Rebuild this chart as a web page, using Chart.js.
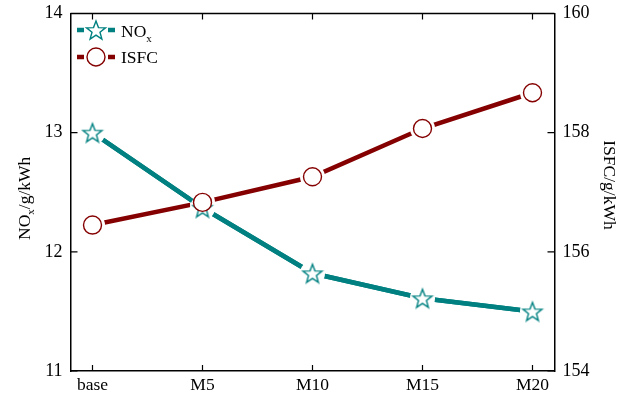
<!DOCTYPE html>
<html>
<head>
<meta charset="utf-8">
<script src="https://cdn.jsdelivr.net/npm/chart.js"></script>
<style>
  html, body { margin: 0; padding: 0; background: #fff; }
  #wrap { width: 624px; height: 401px; }
</style>
</head>
<body>
<div id="wrap"><canvas id="myChart" width="624" height="401"></canvas></div>
<script>
// data
var categories = ['base', 'M5', 'M10', 'M15', 'M20'];
var noxValues = [13.0, 12.37, 11.82, 11.61, 11.5];
var isfcValues = [156.45, 156.83, 157.26, 158.07, 158.67];
var noxTicks = [11, 12, 13, 14];
var isfcTicks = [154, 156, 158, 160];

var TEAL = '#008080';
var DARKRED = '#850000';
var FONT = '"Liberation Serif", "Times New Roman", serif';
var GAP = 12.5;

function toPoints(arr){
  return arr.map(function(v, i){ return {x: i, y: v}; });
}

function makeStar(r, color){
  var c = document.createElement('canvas');
  var size = Math.ceil(r * 2 + 4);
  c.width = size; c.height = size;
  var g = c.getContext('2d');
  var cx = size / 2, cy = size / 2 + 1;
  g.beginPath();
  for (var i = 0; i < 10; i++) {
    var rad = (i % 2 === 0) ? r : r * 0.42;
    var a = -Math.PI / 2 + i * Math.PI / 5;
    var px = cx + rad * Math.cos(a), py = cy + rad * Math.sin(a);
    if (i === 0) g.moveTo(px, py); else g.lineTo(px, py);
  }
  g.closePath();
  g.fillStyle = '#fff';
  g.fill();
  g.lineWidth = 1.4;
  g.strokeStyle = color;
  g.stroke();
  return c;
}
var starImg = makeStar(10, TEAL);

function whiteDisks(ctx, meta){
  ctx.save();
  ctx.fillStyle = '#fff';
  meta.data.forEach(function(pt){
    ctx.beginPath();
    ctx.arc(pt.x, pt.y, GAP, 0, Math.PI * 2);
    ctx.fill();
  });
  ctx.restore();
}

// gaps round the markers: cut the lines, then redraw line/markers from the chart's own elements
var gaps = {
  id: 'gaps',
  afterDraw: function(chart){
    var ctx = chart.ctx, a = chart.chartArea;
    var isfcLine = chart.getDatasetMeta(0), noxLine = chart.getDatasetMeta(1);
    var stars = chart.getDatasetMeta(2), circles = chart.getDatasetMeta(3);
    whiteDisks(ctx, isfcLine);
    noxLine.dataset.draw(ctx, a);
    whiteDisks(ctx, noxLine);
    stars.data.forEach(function(p){ p.draw(ctx, a); });
    circles.data.forEach(function(p){ p.draw(ctx, a); });
  }
};

// inward ticks + top frame + titles + legend
var frame = {
  id: 'frame',
  afterDraw: function(chart){
    var ctx = chart.ctx, a = chart.chartArea;
    var x = chart.scales.x, yl = chart.scales.yL, yr = chart.scales.yR;
    ctx.save();
    ctx.strokeStyle = '#000';
    ctx.lineWidth = 1.5;
    ctx.beginPath();
    ctx.moveTo(a.left, a.top); ctx.lineTo(a.right, a.top);
    ctx.stroke();
    ctx.lineWidth = 1.2;
    ctx.beginPath();
    categories.forEach(function(c, i){
      var px = x.getPixelForValue(i);
      ctx.moveTo(px, a.bottom); ctx.lineTo(px, a.bottom - 6);
      ctx.moveTo(px, a.top); ctx.lineTo(px, a.top + 6);
    });
    noxTicks.forEach(function(v){
      var py = yl.getPixelForValue(v);
      ctx.moveTo(a.left, py); ctx.lineTo(a.left + 7, py);
    });
    isfcTicks.forEach(function(v){
      var py = yr.getPixelForValue(v);
      ctx.moveTo(a.right, py); ctx.lineTo(a.right - 7, py);
    });
    ctx.stroke();

    // axis titles
    ctx.fillStyle = '#000';
    ctx.textBaseline = 'alphabetic';
    ctx.textAlign = 'left';
    var big = '17.5px ' + FONT, small = '11px ' + FONT;
    ctx.save();
    ctx.translate(30, 240);
    ctx.rotate(-Math.PI / 2);
    ctx.font = big;
    ctx.fillText('NO', 0, 0);
    var w = ctx.measureText('NO').width;
    ctx.font = small;
    ctx.fillText('x', w, 4);
    w += ctx.measureText('x').width;
    ctx.font = big;
    ctx.fillText('/g/kWh', w, 0);
    ctx.restore();

    ctx.save();
    ctx.font = big;
    var tw = ctx.measureText('ISFC/g/kWh').width;
    ctx.translate(604, 185 - tw / 2);
    ctx.rotate(Math.PI / 2);
    ctx.fillText('ISFC/g/kWh', 0, 0);
    ctx.restore();

    // legend
    ctx.lineWidth = 4.5;
    ctx.strokeStyle = TEAL;
    ctx.beginPath(); ctx.moveTo(77, 30); ctx.lineTo(84, 30); ctx.moveTo(108, 30); ctx.lineTo(115, 30); ctx.stroke();
    ctx.drawImage(starImg, 96 - starImg.width / 2, 30 - starImg.height / 2);
    ctx.strokeStyle = DARKRED;
    ctx.beginPath(); ctx.moveTo(77, 57); ctx.lineTo(84, 57); ctx.moveTo(108, 57); ctx.lineTo(115, 57); ctx.stroke();
    ctx.lineWidth = 1.4;
    ctx.fillStyle = '#fff';
    ctx.beginPath(); ctx.arc(96, 57, 9, 0, Math.PI * 2); ctx.fill(); ctx.stroke();
    ctx.fillStyle = '#000';
    ctx.font = big;
    ctx.fillText('NO', 121, 37);
    var nw = ctx.measureText('NO').width;
    ctx.font = small;
    ctx.fillText('x', 121 + nw, 42);
    ctx.font = big;
    ctx.fillText('ISFC', 121, 63);
    ctx.restore();
  }
};

function noPad(s){
  s.paddingTop = 0; s.paddingBottom = 0; s.paddingLeft = 0; s.paddingRight = 0;
}

function init(){
  var ctx = document.getElementById('myChart').getContext('2d');
  var myChart = new Chart(ctx, {
    type: 'line',
    data: {
      datasets: [
        { data: toPoints(isfcValues), yAxisID: 'yR', borderColor: DARKRED, borderWidth: 4.5,
          pointRadius: 0, fill: false, order: 10 },
        { data: toPoints(noxValues), yAxisID: 'yL', borderColor: TEAL, borderWidth: 4.5,
          pointRadius: 0, fill: false, order: 9 },
        { data: toPoints(noxValues), yAxisID: 'yL', showLine: false, pointStyle: starImg,
          pointRadius: 10, order: 6 },
        { data: toPoints(isfcValues), yAxisID: 'yR', showLine: false, pointStyle: 'circle',
          pointRadius: 9, pointBorderWidth: 1.4, pointBorderColor: DARKRED,
          pointBackgroundColor: '#fff', order: 5 }
      ]
    },
    options: {
      responsive: false,
      animation: false,
      layout: { padding: { top: 13.5, left: 0, right: 0, bottom: 0 } },
      plugins: { legend: { display: false }, tooltip: { enabled: false } },
      scales: {
        x: {
          type: 'linear', position: 'bottom', min: -0.2, max: 4.2,
          afterBuildTicks: function(s){ s.ticks = categories.map(function(c, i){ return {value: i}; }); },
          ticks: { callback: function(v){ return categories[v]; }, color: '#000',
                   font: { family: FONT, size: 17.5 }, padding: 4, maxRotation: 0 },
          grid: { display: false, drawTicks: false },
          border: { display: true, color: '#000', width: 1.5 },
          afterFit: function(s){ s.height = 30; noPad(s); }
        },
        yL: {
          position: 'left', min: 11, max: 14,
          afterBuildTicks: function(s){ s.ticks = noxTicks.map(function(v){ return {value: v}; }); },
          ticks: { color: '#000', font: { family: FONT, size: 18 }, padding: 8 },
          grid: { display: false, drawTicks: false },
          border: { display: true, color: '#000', width: 1.5 },
          afterFit: function(s){ s.width = 70.5; noPad(s); }
        },
        yR: {
          position: 'right', min: 154, max: 160,
          afterBuildTicks: function(s){ s.ticks = isfcTicks.map(function(v){ return {value: v}; }); },
          ticks: { color: '#000', font: { family: FONT, size: 18 }, padding: 8 },
          grid: { display: false, drawTicks: false },
          border: { display: true, color: '#000', width: 1.5 },
          afterFit: function(s){ s.width = 69.5; noPad(s); }
        }
      }
    },
    plugins: [gaps, frame]
  });
}
init();
</script>
</body>
</html>
